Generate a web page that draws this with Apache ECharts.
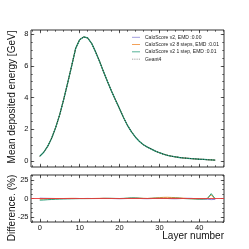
<!DOCTYPE html>
<html>
<head>
<meta charset="utf-8">
<script src="https://cdn.jsdelivr.net/npm/echarts@6/dist/echarts.min.js"></script>
<style>html,body{margin:0;padding:0;background:#fff;}#c{width:249px;height:249px;}</style>
</head>
<body>
<div id="c"></div>
<script>
const layers = [0,1,2,3,4,5,6,7,8,9,10,11,12,13,14,15,16,17,18,19,20,21,22,23,24,25,26,27,28,29,30,31,32,33,34,35,36,37,38,39,40,41,42,43,44];
const geant4 = [0.30,0.55,0.93,1.45,2.12,2.92,3.88,4.92,6.00,7.10,7.65,7.82,7.76,7.42,6.88,6.28,5.62,5.00,4.40,3.84,3.30,2.74,2.24,1.84,1.50,1.23,1.02,0.87,0.75,0.62,0.52,0.43,0.36,0.30,0.26,0.22,0.19,0.17,0.15,0.13,0.11,0.10,0.08,0.07,0.05];
const diffV2 = [0.5,0.3,0.2,0.1,0,0,-0.2,-0.1,0,0.1,0,0,0.1,0,-0.1,0,0.2,0.1,0,-0.2,-0.3,-0.2,0,0.2,0.3,0.1,-0.2,-0.3,-0.1,0.2,0.3,0.2,0,-0.3,-0.4,-0.2,0.1,0.3,0.2,-0.2,-0.5,-0.8,-1.0,-1.5,-1.2];
const diffV2s8 = [-0.8,-0.6,-0.4,-0.3,-0.2,-0.1,0,0.1,0.2,0.1,0,0,-0.1,0,0.1,0.2,0.3,0.2,0.1,0,-0.1,0,0.3,0.5,0.6,0.4,0.2,0.1,0.4,0.8,1.2,1.5,1.6,1.4,1.2,0.8,0.4,0,-0.3,-0.5,-0.6,-0.4,0.2,5.0,-0.8];
const diffV2s1 = [-2.2,-2.0,-1.6,-1.3,-1.0,-0.8,-0.6,-0.5,-0.4,-0.3,-0.2,-0.2,-0.1,-0.1,0,0,0.1,0.2,0.2,0.1,0,0.2,0.5,0.8,0.7,0.4,0.1,0,0.2,0.4,0.3,0.2,0.1,0.3,0.5,0.4,0,-0.3,-0.4,-0.6,-0.8,-0.7,-0.3,6.5,-0.5];
const seriesNames = ['CaloScore v2, EMD :0.00','CaloScore v2 8 steps, EMD :0.01','CaloScore v2 1 step, EMD :0.01','Geant4'];
const xTicks = [0,10,20,30,40];
const xMinor = [-2,0,2,4,6,8,10,12,14,16,18,20,22,24,26,28,30,32,34,36,38,40,42,44,46];
const yTicksTop = [0,2,4,6,8];
const yMinorTop = [0,0.5,1,1.5,2,2.5,3,3.5,4,4.5,5,5.5,6,6.5,7,7.5,8];
const yTicksBottom = [-25,0,25];
const yMinorBottom = [-31.25,-25,-18.75,-12.5,-6.25,0,6.25,12.5,18.75,25,31.25];

const colors = ['#8a86d6','#f08a30','#2a9f7c','#111111'];
const FONT = 'Liberation Sans';
const frame = '#333';
const XR = [-2.2, 46.2];
const YR_TOP = [-0.38, 8.26];
const YR_BOT = [-31.5, 31.5];

function mkAxis(grid, pos, range, ticks, len, labels){
  return {
    type:'value', gridIndex:grid, position:pos, min:range[0], max:range[1],
    axisLine:{show:false, onZero:false},
    splitLine:{show:false},
    axisTick:{show:true, inside:true, length:len, customValues:ticks, lineStyle:{color:frame,width:0.8}},
    axisLabel:{show:!!labels, customValues:ticks, fontFamily:FONT, fontSize:7.5, color:'#111', margin:2.5},
    animation:false
  };
}
const xAxes = [
  mkAxis(0,'bottom',XR,xTicks,3.2,false),
  mkAxis(0,'bottom',XR,xMinor,1.7,false),
  mkAxis(0,'top',XR,xTicks,3.2,false),
  mkAxis(0,'top',XR,xMinor,1.7,false),
  mkAxis(1,'bottom',XR,xTicks,3.2,true),
  mkAxis(1,'bottom',XR,xMinor,1.7,false),
  mkAxis(1,'top',XR,xTicks,3.2,false),
  mkAxis(1,'top',XR,xMinor,1.7,false)
];
const yAxes = [
  mkAxis(0,'left',YR_TOP,yTicksTop,3.2,true),
  mkAxis(0,'left',YR_TOP,yMinorTop,1.7,false),
  mkAxis(0,'right',YR_TOP,yTicksTop,3.2,false),
  mkAxis(0,'right',YR_TOP,yMinorTop,1.7,false),
  mkAxis(1,'left',YR_BOT,yTicksBottom,3.2,true),
  mkAxis(1,'left',YR_BOT,yMinorBottom,1.7,false),
  mkAxis(1,'right',YR_BOT,yTicksBottom,3.2,false),
  mkAxis(1,'right',YR_BOT,yMinorBottom,1.7,false)
];
xAxes[4].axisLabel.margin = 2;

function pairs(ys){ return layers.map((l,i)=>[l, ys[i]]); }

const series = [];
[geant4, geant4, geant4].forEach((arr,i)=>{
  series.push({type:'line', name:seriesNames[i], xAxisIndex:0, yAxisIndex:0, data:pairs(arr),
    showSymbol:false, symbol:'none', lineStyle:{color:colors[i], width:i===2?1.3:1}, itemStyle:{color:colors[i]}, z:2+i});
});
series.push({type:'line', name:seriesNames[3], xAxisIndex:0, yAxisIndex:0, data:pairs(geant4),
  showSymbol:false, symbol:'none', lineStyle:{color:colors[3], width:0.8, type:[1,1.6]}, itemStyle:{color:colors[3]}, z:6});
[diffV2, diffV2s8, diffV2s1].forEach((arr,i)=>{
  series.push({type:'line', name:seriesNames[i]+' diff', xAxisIndex:4, yAxisIndex:4, data:pairs(arr),
    showSymbol:false, symbol:'none', lineStyle:{color:colors[i], width:1}, z:2+i,
    markLine: i===0 ? {silent:true, symbol:'none', label:{show:false}, animation:false,
      lineStyle:{color:'#e8393a', width:0.9, type:'solid'}, data:[{yAxis:0}], z:10} : undefined});
});

const lineIcon = 'path://M0,0h16v1.6h-16z';
const dotIcon = 'path://M0,0h1.6v1.6h-1.6z M3.6,0h1.6v1.6h-1.6z M7.2,0h1.6v1.6h-1.6z M10.8,0h1.6v1.6h-1.6z M14.4,0h1.6v1.6h-1.6z';

const chart = echarts.init(document.getElementById('c'), null, {renderer:'canvas'});
chart.setOption({
  animation:false,
  backgroundColor:'#fff',
  grid:[
    {left:31, top:30, width:193, height:137, show:true, borderColor:frame, borderWidth:1, backgroundColor:'transparent'},
    {left:31, top:175, width:193, height:47, show:true, borderColor:frame, borderWidth:1, backgroundColor:'transparent'}
  ],
  xAxis:xAxes, yAxis:yAxes,
  legend:{
    data:seriesNames.map((n,i)=>({name:n, icon: i===3 ? dotIcon : lineIcon, itemStyle:{color: i===3 ? '#666' : colors[i]}})),
    orient:'vertical', left:132, top:34.5, itemWidth:8, itemHeight:1, itemGap:1.8, padding:0,
    textStyle:{fontFamily:FONT, fontSize:5, color:'#222', lineHeight:5.5}
  },
  graphic:[
    {type:'text', x:12, y:97, rotation:Math.PI/2, style:{text:'Mean deposited energy [GeV]', fontFamily:FONT, fontSize:10, fill:'#111', align:'center', verticalAlign:'middle'}},
    {type:'text', x:12, y:208, rotation:Math.PI/2, style:{text:'Difference. (%)', fontFamily:FONT, fontSize:10, fill:'#111', align:'center', verticalAlign:'middle'}},
    {type:'text', x:224, y:236, style:{text:'Layer number', fontFamily:FONT, fontSize:10, fill:'#111', align:'right', verticalAlign:'middle'}}
  ],
  series:series
});
</script>
</body>
</html>
